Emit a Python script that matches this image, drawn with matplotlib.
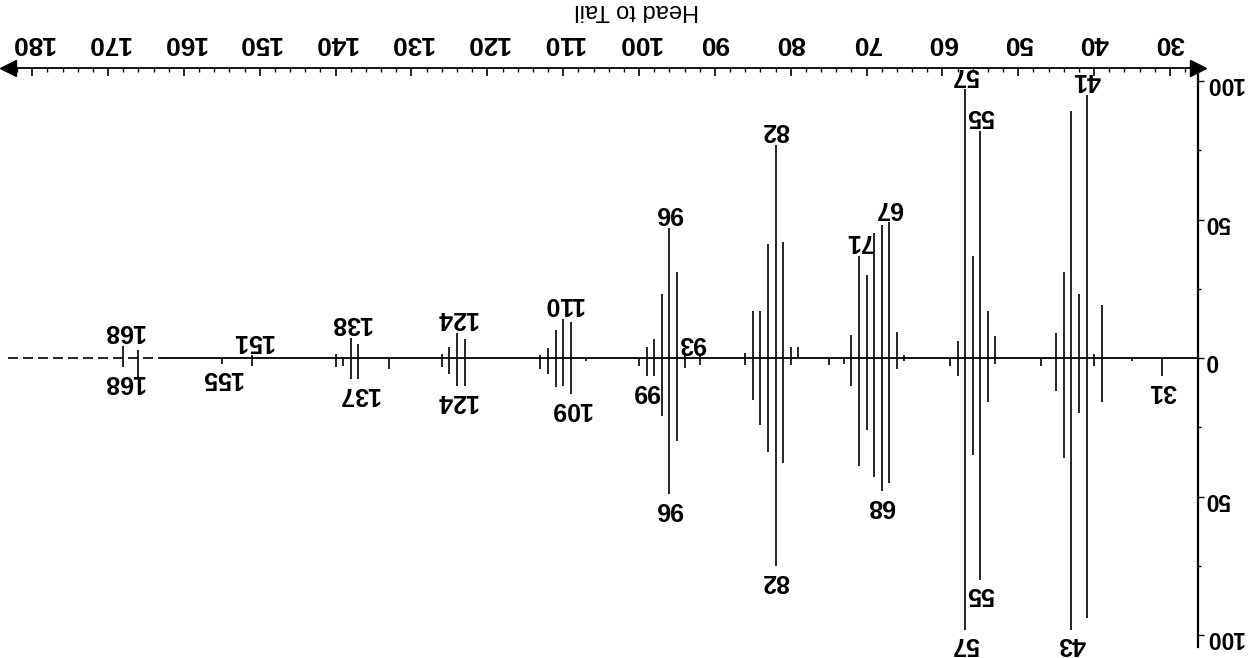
import matplotlib
matplotlib.use("Agg")
import matplotlib.pyplot as plt
from matplotlib.ticker import MultipleLocator, FuncFormatter

plt.rcParams['font.family'] = ['Liberation Sans', 'DejaVu Sans']

# m/z of each fragment, head spectrum (drawn upward) and tail spectrum (drawn downward)
mz = [31, 35, 39, 40, 41, 42, 43, 44, 45, 47,
      53, 54, 55, 56, 57, 58, 59, 65, 66, 67,
      68, 69, 70, 71, 72, 73, 75, 79, 80, 81,
      82, 83, 84, 85, 86, 92, 94, 95, 96, 97,
      98, 99, 100, 107, 109, 110, 111, 112, 113, 123,
      124, 125, 126, 133, 137, 138, 139, 140, 151, 155,
      166, 168]
head = [0, 0, 19, 1.5, 95, 23, 89, 31, 9, 0,
        8, 17, 82, 37, 97, 6, 0, 1, 9.5, 49,
        48, 45, 30, 37, 8.5, 0, 0, 4, 4, 42,
        77, 41, 17, 17, 2, 1, 1, 31, 47, 23,
        7, 4, 0, 0, 13, 14, 10, 3.6, 1, 7,
        9, 4, 1.4, 0, 5, 7.4, 0, 1.4, 1, 0,
        3, 4.4]
tail = [6.5, 1, 16, 3, 94, 20, 98, 36, 12, 3,
        2, 16, 80, 35, 98, 6.5, 3, 1, 4, 45,
        48, 43, 26, 39, 10, 2, 2.5, 0, 2.5, 38,
        75, 34, 24, 15, 2.5, 2.5, 3.5, 30, 49, 21,
        6.5, 6.5, 3, 1, 13, 10, 10.5, 5.7, 4, 10,
        10, 5.7, 3.3, 4, 7.5, 7.5, 3, 3.3, 3, 2,
        7, 3.3]

head_labels = [41, 57, 55, 67, 71, 82, 96, 93, 110, 124, 138, 151, 168]
tail_labels = [31, 43, 57, 55, 68, 82, 96, 99, 109, 124, 137, 155, 168]

x_ticks = list(range(30, 190, 10))
y_ticks = [-100, -50, 0, 50, 100]

xmin, xmax = 183.2, 26.3
ymin, ymax = -104.3, 104.7

fig = plt.figure(figsize=(12.49, 6.58), dpi=100)
ax = fig.add_axes([8 / 1249, 11 / 658, 1190 / 1249, 579 / 658])

# baseline
ax.plot([xmin, 163], [0, 0], color='black', lw=1.2, ls=(0, (6, 3)))
ax.plot([163, xmax], [0, 0], color='black', lw=1.3)

ax.vlines(mz, 0, head, color='black', lw=1.2)
ax.vlines(mz, 0, [-t for t in tail], color='black', lw=1.2)

hd = dict(zip(mz, head))
td = dict(zip(mz, tail))
for m in head_labels:
    ax.annotate(str(m), (m, hd.get(m, 0)), xytext=(0, 2), textcoords='offset points',
                ha='center', va='bottom', rotation=180, fontsize=18, fontweight='bold')
for m in tail_labels:
    ax.annotate(str(m), (m, -td.get(m, 0)), xytext=(0, -2), textcoords='offset points',
                ha='center', va='top', rotation=180, fontsize=18, fontweight='bold')

ax.set_xlim(xmin, xmax)
ax.set_ylim(ymin, ymax)

for s in ['left', 'bottom']:
    ax.spines[s].set_visible(False)
ax.spines['top'].set_linewidth(1.3)
ax.spines['right'].set_linewidth(1.6)

ax.xaxis.tick_top()
ax.set_xticks(x_ticks)
ax.xaxis.set_minor_locator(MultipleLocator(2))
ax.tick_params(axis='x', which='major', direction='in', length=6, width=1.2,
               labelrotation=180, labelsize=19, pad=9)
ax.tick_params(axis='x', which='minor', direction='in', length=3, width=1)
ax.set_xlabel('Head to Tail', rotation=180, fontsize=17)
ax.xaxis.set_label_position('top')
ax.xaxis.set_label_coords(0.528, 1.1)
ax.xaxis.label.set_va('center')

ax.yaxis.tick_right()
ax.set_yticks(y_ticks)
ax.yaxis.set_minor_locator(MultipleLocator(25))
ax.yaxis.set_major_formatter(FuncFormatter(lambda v, p: '%d' % abs(v)))
ax.tick_params(axis='y', which='major', direction='out', length=4, width=1,
               labelrotation=180, labelsize=16.5, pad=1)
ax.tick_params(axis='y', which='minor', direction='out', length=2, width=1)

for lab in ax.get_xticklabels() + ax.get_yticklabels():
    lab.set_fontweight('bold')

# arrow heads on the ends of the x axis
ax.plot([xmin], [ymax], marker='<', color='black', ms=11, clip_on=False)
ax.plot([xmax], [ymax], marker='>', color='black', ms=11, clip_on=False)

fig.savefig('out.png', dpi=100)
